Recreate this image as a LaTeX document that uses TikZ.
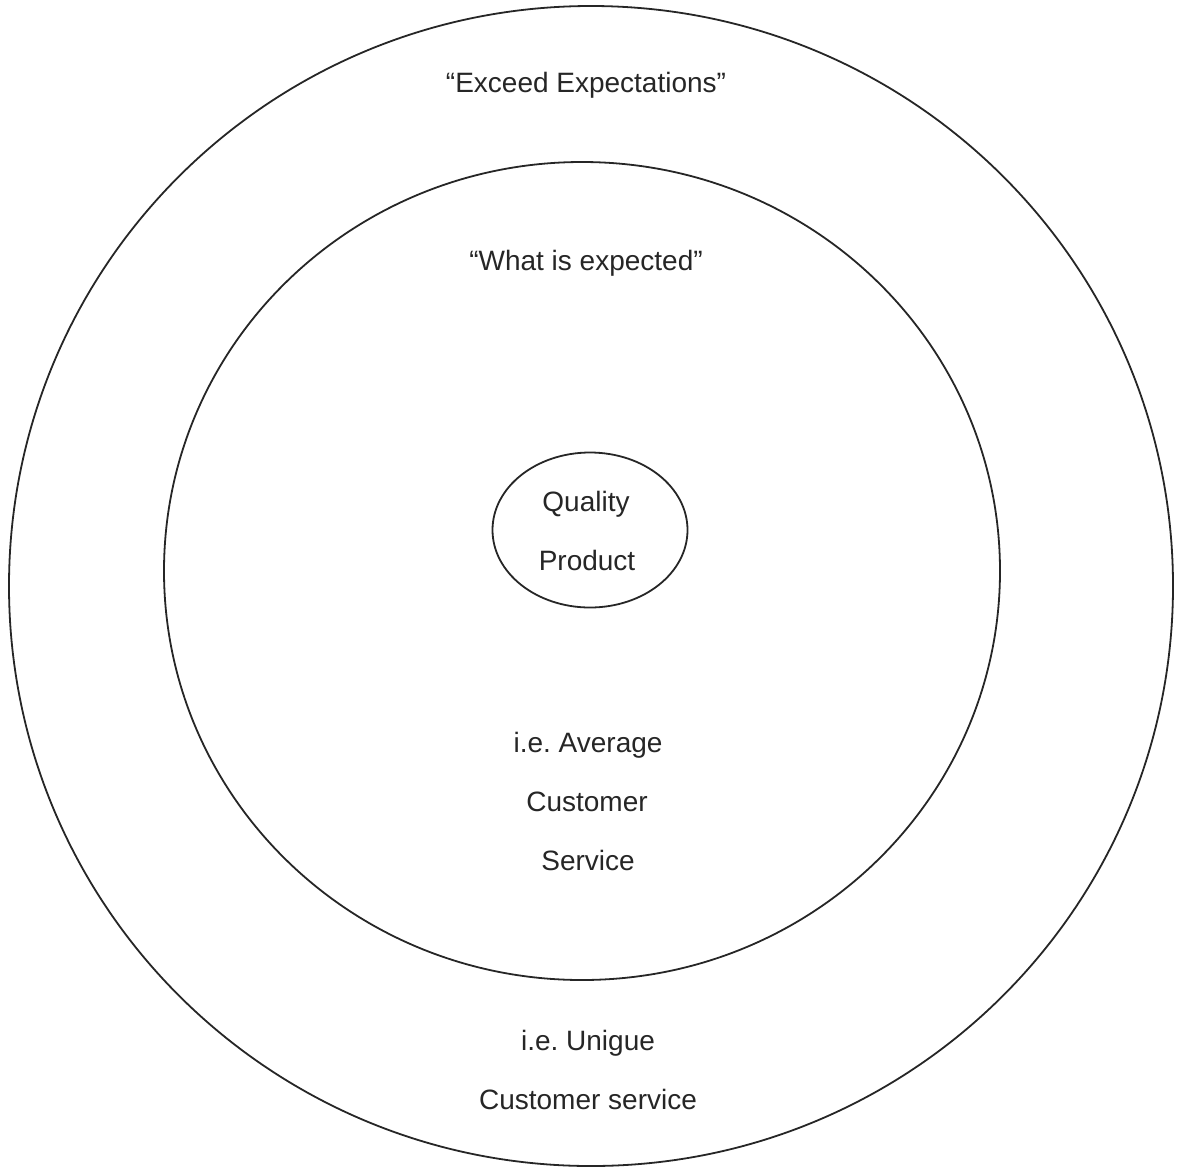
\documentclass[tikz,border=0pt]{standalone}
\usepackage{fontspec}
\setmainfont{Liberation Sans}
\usetikzlibrary{shapes.geometric}
\frenchspacing

\begin{document}
\begin{tikzpicture}[x=1pt, y=-1pt,
    ring/.style={draw=black!85, ellipse, line width=1.8pt, inner sep=0pt},
    txt/.style={font=\fontsize{28}{34}\selectfont, anchor=base, text=black!85},
]
\useasboundingbox (0,0) rectangle (1185,1173);
% the three nested rings
\node[ring, minimum width=1164, minimum height=1160] (outer) at (591,586) {};
\node[ring, minimum width=836, minimum height=818] (inner) at (582,571) {};
\node[ring, minimum width=195, minimum height=155] (core) at (590,530) {};
% texts
\node[txt] (exceed) at (586,92) {“Exceed Expectations”};
\node[txt] (expected) at (586,270) {“What is expected”};
\node[txt] (quality) at (586,511) {Quality};
\node[txt] (product) at (587,570) {Product};
\node[txt] (avg1) at (588,752) {i.e. Average};
\node[txt] (avg2) at (587,811) {Customer};
\node[txt] (avg3) at (588,870) {Service};
\node[txt] (uniq1) at (588,1050) {i.e. Unigue};
\node[txt] (uniq2) at (588,1109) {Customer service};
\end{tikzpicture}
\end{document}
